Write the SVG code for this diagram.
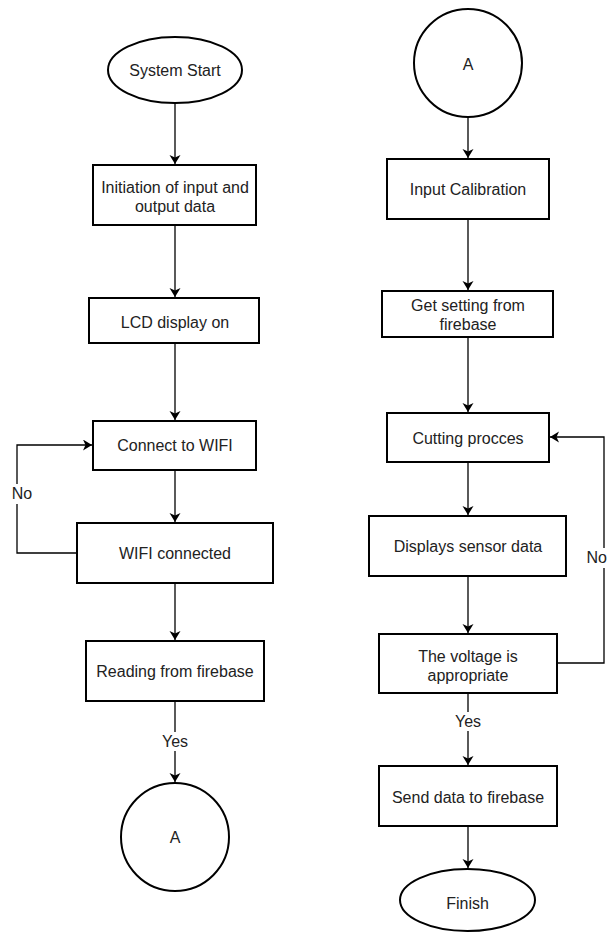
<svg xmlns="http://www.w3.org/2000/svg" width="608" height="932" viewBox="0 0 608 932">
<style>
.n{fill:#fff;stroke:#000;stroke-width:2}
.t{font-family:"Liberation Sans",Arial,sans-serif;font-size:16px;fill:#222;text-anchor:middle}
.c{fill:none;stroke:#000;stroke-width:1.3}
.lb{fill:#fff}
</style>
<defs>
<marker id="ar" markerUnits="userSpaceOnUse" markerWidth="12" markerHeight="12" refX="9" refY="5.5" orient="auto">
<path d="M0,0 L9,5.5 L0,11 L2.5,5.5 Z" fill="#000"/>
</marker>
</defs>
<rect width="608" height="932" fill="#fff"/>
<g id="connectors">
<path class="c" d="M175,104 V164" marker-end="url(#ar)"/>
<path class="c" d="M175,226 V297" marker-end="url(#ar)"/>
<path class="c" d="M175,344 V420" marker-end="url(#ar)"/>
<path class="c" d="M175,471 V522" marker-end="url(#ar)"/>
<path class="c" d="M76,553 H17 V445 H92" marker-end="url(#ar)"/>
<path class="c" d="M175,584 V640" marker-end="url(#ar)"/>
<path class="c" d="M175,702 V782" marker-end="url(#ar)"/>
<path class="c" d="M468,118 V158" marker-end="url(#ar)"/>
<path class="c" d="M468,220 V290" marker-end="url(#ar)"/>
<path class="c" d="M468,338 V412" marker-end="url(#ar)"/>
<path class="c" d="M468,463 V515" marker-end="url(#ar)"/>
<path class="c" d="M468,577 V633" marker-end="url(#ar)"/>
<path class="c" d="M558,663 H604 V437 H550" marker-end="url(#ar)"/>
<path class="c" d="M468,694 V765" marker-end="url(#ar)"/>
<path class="c" d="M468,827 V868" marker-end="url(#ar)"/>
<rect class="lb" x="7" y="484" width="30" height="20"/>
<text class="t" x="22" y="499">No</text>
<rect class="lb" x="158" y="732" width="34" height="19"/>
<text class="t" x="175" y="747">Yes</text>
<rect class="lb" x="451" y="712" width="34" height="19"/>
<text class="t" x="468" y="727">Yes</text>
<rect class="lb" x="586" y="548" width="22" height="20"/>
<text class="t" x="607" y="563" style="text-anchor:end">No</text>
</g>
<g id="start"><ellipse class="n" cx="175" cy="70" rx="67" ry="33"/><text class="t" x="175" y="76">System Start</text></g>
<g id="init"><rect class="n" x="93" y="165" width="163" height="60"/><text class="t" x="175" y="193">Initiation of input and</text><text class="t" x="175" y="212">output data</text></g>
<g id="lcd"><rect class="n" x="89" y="298" width="170" height="45"/><text class="t" x="175" y="328">LCD display on</text></g>
<g id="connect"><rect class="n" x="93" y="421" width="163" height="49"/><text class="t" x="175" y="451">Connect to WIFI</text></g>
<g id="wifi"><rect class="n" x="77" y="523" width="196" height="60"/><text class="t" x="175" y="559">WIFI connected</text></g>
<g id="reading"><rect class="n" x="86" y="641" width="178" height="60"/><text class="t" x="175" y="677">Reading from firebase</text></g>
<g id="a-left"><circle class="n" cx="175" cy="837" r="54"/><text class="t" x="175" y="843">A</text></g>
<g id="a-right"><circle class="n" cx="468" cy="63" r="54"/><text class="t" x="468" y="70">A</text></g>
<g id="calib"><rect class="n" x="387" y="159" width="162" height="60"/><text class="t" x="468" y="195">Input Calibration</text></g>
<g id="getset"><rect class="n" x="382" y="291" width="171" height="46"/><text class="t" x="468" y="311">Get setting from</text><text class="t" x="468" y="330">firebase</text></g>
<g id="cutting"><rect class="n" x="387" y="413" width="162" height="49"/><text class="t" x="468" y="444">Cutting procces</text></g>
<g id="displays"><rect class="n" x="369" y="516" width="197" height="60"/><text class="t" x="468" y="552">Displays sensor data</text></g>
<g id="voltage"><rect class="n" x="379" y="634" width="178" height="59"/><text class="t" x="468" y="662">The voltage is</text><text class="t" x="468" y="681">appropriate</text></g>
<g id="send"><rect class="n" x="379" y="766" width="178" height="60"/><text class="t" x="468" y="803">Send data to firebase</text></g>
<g id="finish"><ellipse class="n" cx="467.5" cy="900" rx="67.5" ry="31"/><text class="t" x="467.5" y="909">Finish</text></g>
</svg>
